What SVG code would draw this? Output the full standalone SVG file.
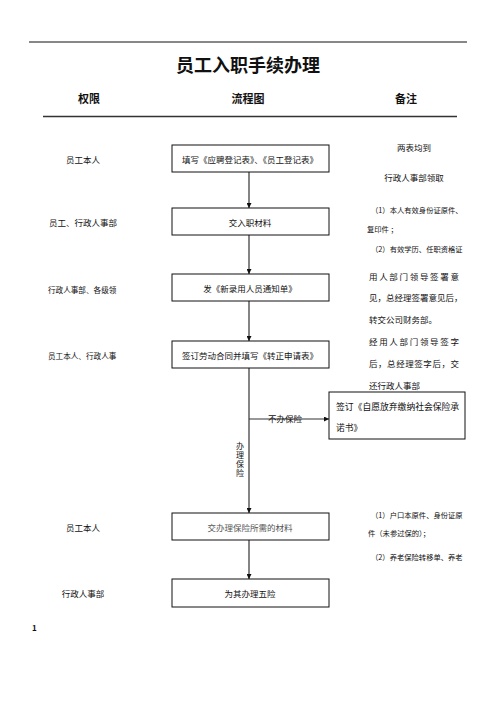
<svg xmlns="http://www.w3.org/2000/svg" width="496" height="702" viewBox="0 0 496 702">
<defs>
<style>
text{font-family:"Noto Sans CJK SC","Liberation Sans",sans-serif;fill:#111;dominant-baseline:central}
.box{fill:#fff;stroke:#111;stroke-width:1}
.bt{font-size:8.5px;text-anchor:middle}
.lab{font-size:8.5px;text-anchor:middle}
.lab2{font-size:7.6px}
.n1{font-size:8.5px}
.n2{font-size:7.3px}
.conn{stroke:#333;stroke-width:1.2;fill:none}
</style>
<marker id="ah" viewBox="0 0 8 8" refX="8" refY="4" markerWidth="5" markerHeight="5" orient="auto" markerUnits="userSpaceOnUse">
<path d="M0,0 L8,4 L0,8 z" fill="#111"/>
</marker>
</defs>
<rect width="496" height="702" fill="#fff"/>
<line x1="29" y1="42" x2="467" y2="42" stroke="#111" stroke-width="1"/>
<text x="248" y="64" style="font-size:18px;font-weight:bold;text-anchor:middle">员工入职手续办理</text>
<text x="89" y="98" style="font-size:11px;font-weight:bold;text-anchor:middle">权限</text>
<text x="248" y="98" style="font-size:11px;font-weight:bold;text-anchor:middle">流程图</text>
<text x="406" y="98" style="font-size:11px;font-weight:bold;text-anchor:middle">备注</text>
<line x1="43" y1="116.5" x2="457" y2="116.5" stroke="#333" stroke-width="1.5"/>

<g id="connectors">
<line class="conn" x1="249" y1="172" x2="249" y2="208" marker-end="url(#ah)"/>
<line class="conn" x1="249" y1="235" x2="249" y2="274" marker-end="url(#ah)"/>
<line class="conn" x1="249" y1="301" x2="249" y2="341" marker-end="url(#ah)"/>
<line class="conn" x1="249" y1="368" x2="249" y2="513" marker-end="url(#ah)"/>
<line class="conn" x1="249" y1="419" x2="329" y2="419" marker-end="url(#ah)"/>
<line class="conn" x1="249" y1="540" x2="249" y2="579" marker-end="url(#ah)"/>
<text x="285" y="418" style="font-size:8.5px;text-anchor:middle">不办保险</text>
<text x="240" y="460" style="font-size:8px;text-anchor:middle;writing-mode:vertical-rl;letter-spacing:1px;dominant-baseline:auto">办理保险</text>
</g>

<g id="n1"><rect class="box" x="172" y="145" width="157" height="27"/><text class="bt" x="250" y="159">填写《应聘登记表》、《员工登记表》</text></g>
<g id="n2"><rect class="box" x="172" y="208" width="157" height="27"/><text class="bt" x="250" y="222">交入职材料</text></g>
<g id="n3"><rect class="box" x="172" y="274" width="157" height="27"/><text class="bt" x="250" y="288">发《新录用人员通知单》</text></g>
<g id="n4"><rect class="box" x="172" y="341" width="157" height="27"/><text class="bt" x="250" y="355">签订劳动合同并填写《转正申请表》</text></g>
<g id="n5"><rect class="box" x="329" y="392" width="136" height="47"/><text class="n1" x="336" y="406" style="font-size:8.8px">签订《自愿放弃缴纳社会保险承</text><text class="n1" x="336" y="427" style="font-size:8.8px">诺书》</text></g>
<g id="n6"><rect class="box" x="172" y="513" width="157" height="27"/><text class="bt" x="250" y="527" style="fill:#555">交办理保险所需的材料</text></g>
<g id="n7"><rect class="box" x="172" y="579" width="157" height="28"/><text class="bt" x="250" y="593">为其办理五险</text></g>

<g id="roles">
<text class="lab" x="83" y="159">员工本人</text>
<text class="lab" x="83" y="222">员工、行政人事部</text>
<text class="lab2" x="48" y="289">行政人事部、各级领</text>
<text class="lab2" x="48" y="355">员工本人、行政人事</text>
<text class="lab" x="83" y="527">员工本人</text>
<text class="lab" x="83" y="593">行政人事部</text>
</g>

<g id="notes">
<text class="n1" x="414" y="147" text-anchor="middle">两表均到</text>
<text class="n1" x="414" y="177" text-anchor="middle">行政人事部领取</text>
<text class="n2" x="371" y="210">（1）本人有效身份证原件、</text>
<text class="n2" x="367" y="229">复印件 ；</text>
<text class="n2" x="371" y="249">（2）有效学历、任职资格证</text>
<text class="n1" x="369" y="276" textLength="90" lengthAdjust="spacing">用人部门领导签署意</text>
<text class="n1" x="369" y="297">见，总经理签署意见后，</text>
<text class="n1" x="369" y="319">转交公司财务部。</text>
<text class="n1" x="369" y="341" textLength="90" lengthAdjust="spacing">经用人部门领导签字</text>
<text class="n1" x="369" y="363" textLength="90" lengthAdjust="spacing">后，总经理签字后，交</text>
<text class="n1" x="369" y="385">还行政人事部</text>
<text class="n2" x="371" y="515">（1）户口本原件、身份证原</text>
<text class="n2" x="368" y="533">件（未参过保的）；</text>
<text class="n2" x="371" y="557">（2）养老保险转移单、养老</text>
</g>
<text x="32" y="627" style="font-size:8px;font-weight:bold">1</text>
</svg>
